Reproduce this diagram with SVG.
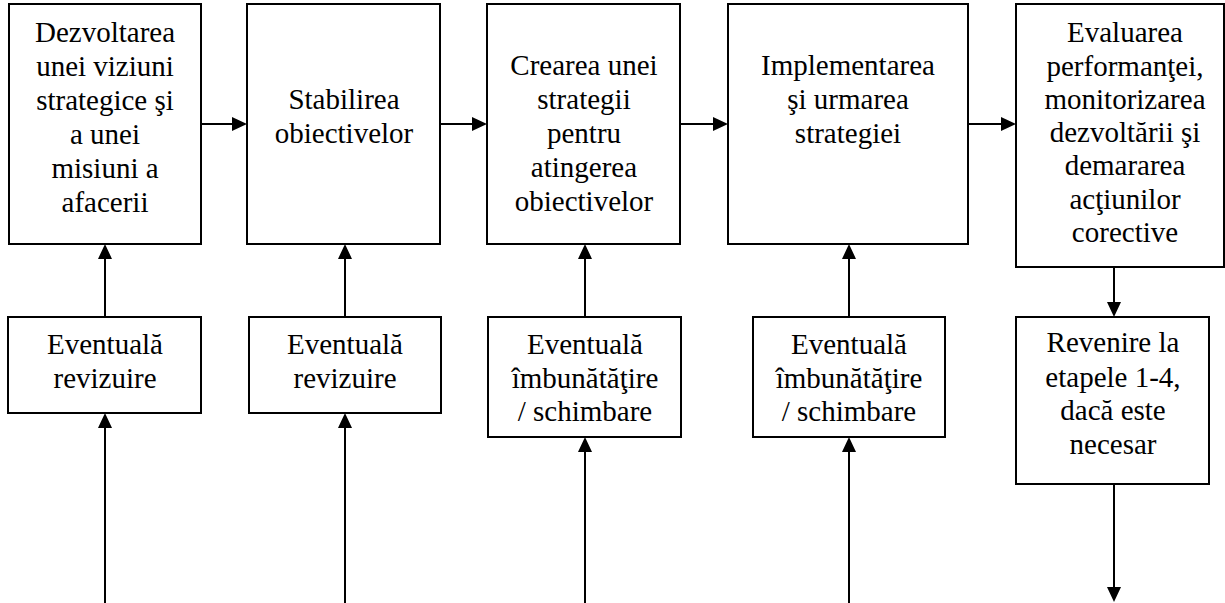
<svg xmlns="http://www.w3.org/2000/svg" width="1225" height="603" viewBox="0 0 1225 603">
  <style>
    .box { fill: #ffffff; stroke: #000000; stroke-width: 2; }
    .lbl { font-family: 'Liberation Serif', 'DejaVu Serif', serif; font-size: 29px; fill: #000000; text-anchor: middle; }
    .link { fill: none; stroke: #000000; stroke-width: 2; marker-end: url(#head); }
  </style>
  <defs>
    <marker id="head" markerUnits="userSpaceOnUse" markerWidth="15" markerHeight="14" refX="7" refY="7" orient="auto">
      <path d="M0,0 L15,7 L0,14 z" fill="#000000"/>
    </marker>
  </defs>
  <rect width="1225" height="603" fill="#ffffff"/>

  <!-- main stages -->
  <g id="stage1">
    <rect class="box" x="9" y="4" width="192" height="240"/>
    <text class="lbl" x="105" y="42">Dezvoltarea</text>
    <text class="lbl" x="105" y="76">unei viziuni</text>
    <text class="lbl" x="105" y="110">strategice şi</text>
    <text class="lbl" x="105" y="144">a unei</text>
    <text class="lbl" x="105" y="178">misiuni a</text>
    <text class="lbl" x="105" y="212">afacerii</text>
  </g>
  <g id="stage2">
    <rect class="box" x="247" y="4" width="193" height="240"/>
    <text class="lbl" x="344" y="109">Stabilirea</text>
    <text class="lbl" x="344" y="143">obiectivelor</text>
  </g>
  <g id="stage3">
    <rect class="box" x="487" y="4" width="193" height="240"/>
    <text class="lbl" x="584" y="75">Crearea unei</text>
    <text class="lbl" x="584" y="109">strategii</text>
    <text class="lbl" x="584" y="143">pentru</text>
    <text class="lbl" x="584" y="177">atingerea</text>
    <text class="lbl" x="584" y="211">obiectivelor</text>
  </g>
  <g id="stage4">
    <rect class="box" x="728" y="4" width="240" height="240"/>
    <text class="lbl" x="848" y="75">Implementarea</text>
    <text class="lbl" x="848" y="109">şi urmarea</text>
    <text class="lbl" x="848" y="143">strategiei</text>
  </g>
  <g id="stage5">
    <rect class="box" x="1016" y="4" width="208" height="263"/>
    <text class="lbl" x="1125" y="42">Evaluarea</text>
    <text class="lbl" x="1125" y="76">performanţei,</text>
    <text class="lbl" x="1125" y="109">monitorizarea</text>
    <text class="lbl" x="1125" y="142">dezvoltării şi</text>
    <text class="lbl" x="1125" y="175">demararea</text>
    <text class="lbl" x="1125" y="209">acţiunilor</text>
    <text class="lbl" x="1125" y="242">corective</text>
  </g>

  <!-- feedback boxes -->
  <g id="review1">
    <rect class="box" x="8" y="317" width="193" height="96"/>
    <text class="lbl" x="105" y="354">Eventuală</text>
    <text class="lbl" x="105" y="388">revizuire</text>
  </g>
  <g id="review2">
    <rect class="box" x="249" y="317" width="192" height="96"/>
    <text class="lbl" x="345" y="354">Eventuală</text>
    <text class="lbl" x="345" y="388">revizuire</text>
  </g>
  <g id="improve3">
    <rect class="box" x="488" y="317" width="193" height="120"/>
    <text class="lbl" x="585" y="354">Eventuală</text>
    <text class="lbl" x="585" y="388">îmbunătăţire</text>
    <text class="lbl" x="585" y="421">/ schimbare</text>
  </g>
  <g id="improve4">
    <rect class="box" x="753" y="317" width="192" height="120"/>
    <text class="lbl" x="849" y="354">Eventuală</text>
    <text class="lbl" x="849" y="388">îmbunătăţire</text>
    <text class="lbl" x="849" y="421">/ schimbare</text>
  </g>
  <g id="return5">
    <rect class="box" x="1016" y="317" width="193" height="167"/>
    <text class="lbl" x="1113" y="352">Revenire la</text>
    <text class="lbl" x="1113" y="387">etapele 1-4,</text>
    <text class="lbl" x="1113" y="420">dacă este</text>
    <text class="lbl" x="1113" y="454">necesar</text>
  </g>

  <!-- connectors -->
  <g id="connectors">
    <path class="link" d="M201,124 H239"/>
    <path class="link" d="M440,124 H479"/>
    <path class="link" d="M680,124 H720"/>
    <path class="link" d="M968,124 H1008"/>

    <path class="link" d="M105,317 V252"/>
    <path class="link" d="M345,317 V252"/>
    <path class="link" d="M585,317 V252"/>
    <path class="link" d="M849,317 V252"/>

    <path class="link" d="M105,603 V421"/>
    <path class="link" d="M345,603 V421"/>
    <path class="link" d="M585,603 V445"/>
    <path class="link" d="M849,603 V445"/>

    <path class="link" d="M1114,267 V309"/>
    <path class="link" d="M1114,484 V594"/>
  </g>
</svg>
